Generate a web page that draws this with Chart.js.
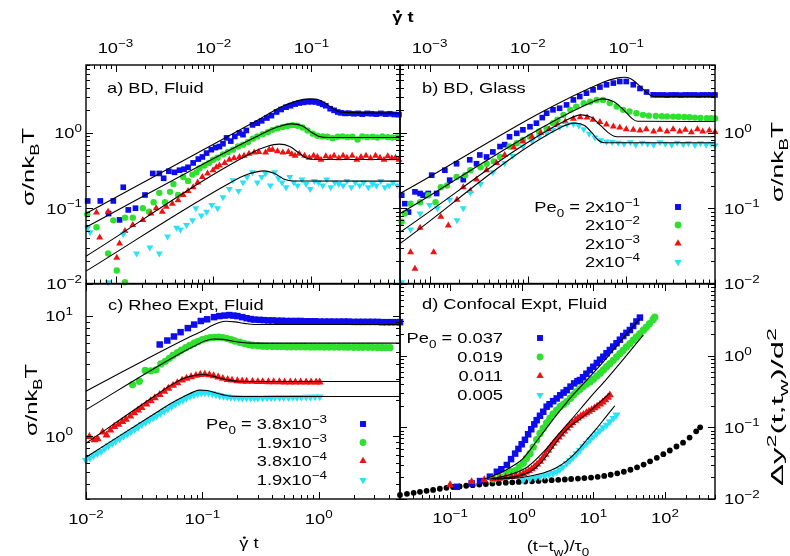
<!DOCTYPE html>
<html><head><meta charset="utf-8">
<script src="https://cdn.jsdelivr.net/npm/chart.js@4.4.1/dist/chart.umd.min.js"></script>
<style>
html,body{margin:0;padding:0;background:#fff;}
#wrap{position:relative;width:790px;height:556px;background:#fff;}
#wrap canvas{position:absolute;left:0;top:0;}
</style></head><body>
<div id="wrap">
<canvas id="pa" width="790" height="556"></canvas>
<canvas id="pb" width="790" height="556"></canvas>
<canvas id="pc" width="790" height="556"></canvas>
<canvas id="pd" width="790" height="556"></canvas>
</div>
<script>
// ---------- axis ranges / tick labels ----------
const abXRange = [5e-4, 0.8];
const abYRange = [0.01, 8];
const cXRange = [0.01, 5];
const cYRange = [0.3, 18.5];
const dXRange = [0.02, 500];
const dYRange = [0.01, 10];
const abTopTicks = [1e-3, 1e-2, 1e-1];
const abTopLabels = ['10^{−3}', '10^{−2}', '10^{−1}'];
const abYTicks = [1, 0.1, 0.01];
const abYLabels = ['10^{0}', '10^{−1}', '10^{−2}'];
const cXTicks = [0.01, 0.1, 1];
const cXLabels = ['10^{−2}', '10^{−1}', '10^{0}'];
const cYTicks = [10, 1];
const cYLabels = ['10^{1}', '10^{0}'];
const dXTicks = [0.1, 1, 10, 100];
const dXLabels = ['10^{−1}', '10^{0}', '10^{1}', '10^{2}'];
const dYTicks = [1, 0.1, 0.01];
const dYLabels = ['10^{0}', '10^{−1}', '10^{−2}'];
const bLegend = ['Pe_{0} = 2x10^{−1}', '2x10^{−2}', '2x10^{−3}', '2x10^{−4}'];
const cLegend = ['Pe_{0} = 3.8x10^{−3}', '1.9x10^{−3}', '3.8x10^{−4}', '1.9x10^{−4}'];
const dLegend = ['Pe_{0} = 0.037', '0.019', '0.011', '0.005'];

// ---------- panel a: BD, Fluid ----------
const aBlueX = [5.2e-4,7e-4,9.5e-4,8.5e-4,1.1e-3,1.2e-3,1.35e-3,1.6e-3,2e-3,2.4e-3,2.8e-3,3.1e-3,3.5e-3,4e-3,4.5e-3,5e-3,5.5e-3,6.2e-3,7e-3,7.7e-3,8.5e-3,9.5e-3,0.0105,0.0115,0.0125,0.0136,0.015,0.0165,0.0184,0.02,0.0216,0.025,0.028,0.031,0.035,0.039,0.044,0.049,0.055,0.061,0.068,0.075,0.083,0.092,0.1,0.11,0.12,0.13,0.14,0.155,0.17,0.185,0.2,0.22,0.24,0.27,0.3,0.33,0.37,0.41,0.46,0.51,0.57,0.63,0.7,0.78];
const aBlueY = [0.125,0.125,0.125,0.085,0.07,0.19,0.095,0.1,0.15,0.29,0.29,0.25,0.31,0.3,0.32,0.33,0.35,0.4,0.45,0.48,0.54,0.6,0.64,0.66,0.72,0.86,0.78,0.9,1.0,0.95,1.08,1.28,1.35,1.45,1.58,1.7,1.9,2.05,2.2,2.3,2.42,2.5,2.55,2.6,2.6,2.58,2.5,2.4,2.3,2.1,2.0,1.9,1.85,1.82,1.83,1.8,1.82,1.78,1.82,1.8,1.78,1.82,1.78,1.8,1.76,1.75];
const aGreenX = [5.15e-4,6.4e-4,8.4e-4,9.5e-4,1.03e-3,1.25e-3,1.25e-3,1.5e-3,1.9e-3,2.2e-3,2.45e-3,2.8e-3,3.2e-3,3.6e-3,3.9e-3,4.35e-3,4.9e-3,5.5e-3,6.1e-3,6.7e-3,7.2e-3,8.1e-3,9e-3,9.9e-3,0.011,0.0125,0.014,0.0158,0.0178,0.02,0.0225,0.0252,0.028,0.0318,0.036,0.04,0.045,0.051,0.057,0.064,0.072,0.081,0.091,0.103,0.115,0.13,0.146,0.164,0.185,0.207,0.233,0.262,0.295,0.33,0.37,0.42,0.47,0.53,0.6,0.67,0.75];
const aGreenY = [0.083,0.056,0.025,0.069,0.0149,0.0104,0.075,0.075,0.1,0.09,0.12,0.16,0.12,0.165,0.21,0.15,0.26,0.23,0.28,0.3,0.34,0.37,0.4,0.44,0.47,0.52,0.56,0.6,0.66,0.7,0.76,0.84,0.9,0.96,1.03,1.1,1.15,1.2,1.24,1.27,1.25,1.18,1.08,0.98,0.92,0.9,0.89,0.85,0.89,0.9,0.88,0.89,0.82,0.9,0.88,0.89,0.87,0.9,0.88,0.87,0.88];
const aRedX = [6.4e-4,6.9e-4,8.4e-4,1.03e-3,1.1e-3,1.25e-3,1.5e-3,1.9e-3,2.3e-3,2.6e-3,3e-3,3.3e-3,3.8e-3,4.35e-3,4.9e-3,5.5e-3,6.2e-3,6.9e-3,7.7e-3,8.7e-3,9.9e-3,0.0107,0.0115,0.013,0.0145,0.0162,0.0184,0.0205,0.023,0.026,0.029,0.034,0.037,0.04,0.045,0.051,0.058,0.063,0.068,0.075,0.085,0.095,0.105,0.115,0.125,0.14,0.155,0.17,0.19,0.21,0.23,0.26,0.29,0.32,0.36,0.4,0.45,0.5,0.55,0.6,0.66,0.72,0.78];
const aRedY = [0.088,0.041,0.09,0.022,0.034,0.05,0.06,0.07,0.085,0.1,0.09,0.105,0.115,0.128,0.15,0.17,0.19,0.22,0.26,0.29,0.32,0.35,0.37,0.4,0.44,0.46,0.48,0.5,0.53,0.55,0.56,0.55,0.6,0.6,0.57,0.55,0.56,0.52,0.5,0.53,0.5,0.47,0.5,0.48,0.44,0.49,0.47,0.5,0.46,0.5,0.47,0.5,0.44,0.48,0.5,0.46,0.5,0.47,0.44,0.49,0.46,0.47,0.44];
const aCyanX = [5.2e-4,5.5e-4,8.4e-4,1.2e-3,1.64e-3,2.24e-3,2.8e-3,3.4e-3,4.2e-3,4.6e-3,5.3e-3,6.1e-3,6.6e-3,7.5e-3,8.5e-3,9.6e-3,0.011,0.0125,0.0145,0.0158,0.018,0.02,0.022,0.025,0.028,0.031,0.034,0.038,0.042,0.046,0.05,0.055,0.06,0.066,0.072,0.08,0.088,0.097,0.107,0.118,0.13,0.143,0.157,0.173,0.19,0.21,0.23,0.255,0.28,0.31,0.34,0.38,0.42,0.46,0.51,0.56,0.62,0.68,0.75];
const aCyanY = [0.055,0.048,0.0104,0.045,0.025,0.03,0.025,0.042,0.055,0.052,0.06,0.069,0.1,0.08,0.09,0.11,0.1,0.14,0.18,0.236,0.17,0.22,0.26,0.3,0.22,0.26,0.29,0.2,0.3,0.25,0.22,0.19,0.26,0.22,0.2,0.24,0.21,0.18,0.23,0.22,0.2,0.24,0.19,0.22,0.21,0.2,0.23,0.19,0.22,0.2,0.22,0.19,0.21,0.2,0.23,0.19,0.2,0.22,0.2];
const aFit1X = [5e-4,0.03,0.05,0.07,0.095,0.12,0.15,0.18,0.22,0.8];
const aFit1Y = [0.085,1.55,2.24,2.65,2.84,2.75,2.3,1.98,1.88,1.83];
const aFit2X = [5e-4,0.03,0.045,0.062,0.08,0.1,0.12,0.15,0.8];
const aFit2Y = [0.056,0.95,1.2,1.32,1.25,1.02,0.9,0.87,0.87];
const aFit3X = [5e-4,0.025,0.035,0.047,0.06,0.075,0.09,0.11,0.8];
const aFit3Y = [0.023,0.55,0.66,0.71,0.66,0.54,0.46,0.445,0.445];
const aFit4X = [5e-4,0.015,0.022,0.033,0.042,0.052,0.065,0.8];
const aFit4Y = [0.0146,0.22,0.28,0.314,0.29,0.245,0.23,0.229];

// ---------- panel b: BD, Glass ----------
const bBlueX = [5.2e-4,5.6e-4,6.1e-4,7.1e-4,8e-4,8.6e-4,9.7e-4,1.05e-3,1.18e-3,1.43e-3,1.6e-3,1.88e-3,2.2e-3,2.56e-3,3e-3,3.24e-3,3.8e-3,4.4e-3,5.2e-3,5.8e-3,6.5e-3,7.7e-3,8.9e-3,0.0105,0.0122,0.014,0.0155,0.018,0.021,0.0247,0.029,0.0337,0.0394,0.046,0.054,0.063,0.074,0.086,0.1,0.118,0.138,0.161,0.188,0.21,0.235,0.26,0.29,0.32,0.36,0.4,0.44,0.49,0.54,0.6,0.66,0.73,0.8];
const bBlueY = [0.149,0.115,0.089,0.165,0.157,0.149,0.157,0.275,0.157,0.32,0.236,0.39,0.24,0.44,0.39,0.51,0.48,0.56,0.66,0.7,0.89,0.99,1.1,1.21,1.35,1.6,1.83,2.03,2.13,2.36,2.75,3.05,3.38,3.74,4.07,4.37,4.6,4.83,4.83,4.37,3.9,3.5,3.21,3.2,3.2,3.18,3.2,3.2,3.18,3.2,3.2,3.2,3.18,3.2,3.2,3.2,3.2];
const bGreenX = [5.2e-4,5.6e-4,6.4e-4,8e-4,9.7e-4,1.15e-3,1.3e-3,1.5e-3,1.88e-3,2.3e-3,2.6e-3,3.3e-3,3.8e-3,4.5e-3,5.2e-3,6.5e-3,7.7e-3,8.9e-3,0.0105,0.013,0.0155,0.018,0.02,0.023,0.027,0.031,0.037,0.043,0.05,0.058,0.068,0.08,0.093,0.108,0.127,0.148,0.17,0.2,0.23,0.26,0.3,0.34,0.39,0.44,0.5,0.57,0.66,0.73,0.8];
const bGreenY = [0.066,0.085,0.115,0.12,0.149,0.12,0.19,0.2,0.26,0.275,0.32,0.35,0.39,0.42,0.48,0.66,0.73,0.81,0.89,1.05,1.15,1.35,1.5,1.74,2.03,2.24,2.48,2.6,2.75,2.75,2.5,2.24,2.03,1.93,1.83,1.74,1.7,1.68,1.67,1.66,1.65,1.64,1.63,1.62,1.6,1.58,1.57,1.57,1.56];
const bRedX = [6.4e-4,7.1e-4,8e-4,1.1e-3,1.3e-3,1.55e-3,1.9e-3,2.2e-3,2.6e-3,3e-3,3.8e-3,4.8e-3,5.8e-3,7.2e-3,8.9e-3,0.011,0.0135,0.0165,0.02,0.024,0.029,0.034,0.04,0.046,0.054,0.063,0.074,0.086,0.1,0.118,0.138,0.16,0.19,0.22,0.26,0.3,0.35,0.4,0.46,0.53,0.6,0.7,0.8];
const bRedY = [0.026,0.0157,0.055,0.026,0.077,0.059,0.13,0.19,0.17,0.24,0.32,0.4,0.51,0.64,0.77,0.89,1.0,1.12,1.28,1.42,1.55,1.62,1.6,1.5,1.4,1.3,1.22,1.18,1.12,1.1,1.08,1.12,1.05,1.1,1.05,1.12,1.05,1.1,1.02,1.12,1.05,1.08,1.03];
const bCyanX = [5.2e-4,6.4e-4,8e-4,1e-3,1.2e-3,1.6e-3,1.9e-3,2.2e-3,2.6e-3,3.3e-3,4.4e-3,5.8e-3,7e-3,8.9e-3,0.011,0.013,0.0155,0.018,0.021,0.025,0.029,0.033,0.037,0.042,0.048,0.055,0.063,0.072,0.083,0.095,0.11,0.125,0.145,0.165,0.19,0.22,0.25,0.29,0.33,0.38,0.43,0.5,0.57,0.65,0.73,0.8];
const bCyanY = [0.0104,0.052,0.085,0.11,0.1,0.13,0.069,0.1,0.16,0.21,0.3,0.4,0.5,0.66,0.78,0.9,1.0,1.1,1.2,1.3,1.32,1.25,1.12,0.98,0.87,0.8,0.77,0.76,0.74,0.72,0.75,0.7,0.74,0.72,0.7,0.75,0.72,0.7,0.74,0.71,0.73,0.69,0.73,0.7,0.72,0.68];
const bFit1X = [5e-4,0.06,0.08,0.095,0.11,0.13,0.16,0.19,0.8];
const bFit1Y = [0.157,4.8,5.35,5.5,5.3,4.5,3.5,3.05,3.05];
const bFit2X = [5e-4,0.04,0.058,0.075,0.095,0.115,0.13,0.8];
const bFit2Y = [0.085,2.4,2.84,2.6,2.0,1.55,1.43,1.42];
const bFit3X = [5e-4,0.025,0.035,0.045,0.055,0.07,0.08,0.8];
const bFit3Y = [0.048,1.5,1.74,1.6,1.25,0.95,0.89,0.89];
const bFit4X = [5e-4,0.022,0.03,0.038,0.045,0.052,0.06,0.8];
const bFit4Y = [0.034,1.2,1.35,1.25,1.0,0.8,0.74,0.74];

// ---------- panel c: Rheo Expt, Fluid ----------
const cBlueX = [0.043,0.05,0.057,0.065,0.075,0.085,0.097,0.11,0.126,0.14,0.155,0.17,0.185,0.2,0.22,0.24,0.26,0.28,0.31,0.34,0.37,0.4,0.44,0.48,0.53,0.58,0.64,0.7,0.77,0.85,0.93,1.02,1.12,1.23,1.35,1.5,1.65,1.8,2.0,2.2,2.4,2.65,2.9,3.2,3.5,3.85,4.2,4.6,5.0];
const cBlueY = [5.8,6.26,6.76,7.35,7.94,8.5,9.1,9.4,9.8,10.0,10.1,10.2,10.1,10.0,9.8,9.6,9.45,9.35,9.3,9.25,9.2,9.2,9.15,9.15,9.1,9.1,9.1,9.1,9.05,9.05,9.05,9.0,9.0,9.0,9.0,9.0,9.0,9.0,8.95,8.95,8.95,8.95,8.95,8.95,8.9,8.9,8.9,8.9,8.9];
const cGreenX = [0.0251,0.0287,0.0323,0.0361,0.04,0.044,0.048,0.052,0.056,0.061,0.066,0.072,0.078,0.085,0.092,0.1,0.108,0.117,0.127,0.138,0.15,0.163,0.177,0.19,0.21,0.23,0.25,0.27,0.3,0.33,0.36,0.4,0.44,0.48,0.53,0.58,0.64,0.7,0.77,0.85,0.93,1.02,1.12,1.23,1.35,1.5,1.65,1.8,2.0,2.2,2.4,2.65,2.9,3.2,3.5,3.8,4.1];
const cGreenY = [2.69,2.87,3.52,3.5,3.57,4.0,4.2,4.45,4.7,4.95,5.2,5.45,5.7,5.95,6.15,6.35,6.5,6.6,6.65,6.68,6.62,6.5,6.35,6.2,6.05,5.9,5.8,5.72,5.66,5.62,5.6,5.58,5.57,5.57,5.56,5.56,5.55,5.55,5.55,5.54,5.54,5.54,5.53,5.53,5.52,5.52,5.52,5.51,5.5,5.5,5.5,5.5,5.49,5.48,5.48,5.47,5.47];
const cRedX = [0.0107,0.0118,0.0126,0.0139,0.015,0.0162,0.0175,0.019,0.0205,0.022,0.024,0.026,0.028,0.03,0.033,0.036,0.039,0.043,0.047,0.051,0.056,0.061,0.067,0.073,0.08,0.088,0.096,0.105,0.115,0.125,0.137,0.15,0.165,0.18,0.2,0.22,0.24,0.27,0.3,0.33,0.37,0.41,0.46,0.51,0.57,0.63,0.7,0.78,0.86,0.95,1.02];
const cRedY = [0.99,0.93,0.95,1.08,1.02,1.12,1.2,1.25,1.32,1.38,1.47,1.56,1.65,1.73,1.85,1.97,2.08,2.22,2.36,2.5,2.64,2.78,2.92,3.03,3.12,3.2,3.25,3.27,3.24,3.18,3.1,3.02,2.96,2.92,2.89,2.87,2.86,2.85,2.84,2.84,2.83,2.83,2.83,2.82,2.82,2.82,2.82,2.82,2.82,2.82,2.82];
const cCyanX = [0.01,0.0108,0.0116,0.0125,0.0135,0.0145,0.0156,0.0168,0.018,0.0195,0.021,0.0226,0.0243,0.0262,0.028,0.0302,0.0325,0.035,0.0377,0.0405,0.0436,0.047,0.0505,0.0544,0.0585,0.063,0.068,0.073,0.0786,0.0846,0.091,0.098,0.105,0.113,0.122,0.131,0.141,0.152,0.164,0.176,0.19,0.205,0.22,0.24,0.26,0.28,0.3,0.33,0.36,0.39,0.42,0.46,0.5,0.55,0.6,0.65,0.71,0.78,0.85,0.93,1.02];
const cCyanY = [0.63,0.66,0.69,0.72,0.75,0.79,0.83,0.87,0.91,0.95,1.0,1.04,1.09,1.14,1.19,1.25,1.3,1.36,1.42,1.48,1.55,1.62,1.69,1.77,1.85,1.93,2.0,2.08,2.15,2.21,2.26,2.29,2.3,2.29,2.26,2.22,2.18,2.15,2.13,2.11,2.1,2.09,2.08,2.08,2.08,2.08,2.08,2.08,2.09,2.09,2.1,2.1,2.1,2.1,2.11,2.11,2.11,2.12,2.12,2.13,2.13];
const cFit1X = [0.01,0.08,0.1,0.12,0.14,0.16,0.19,0.23,0.28,5];
const cFit1Y = [2.37,6.8,7.5,8.3,8.85,9.05,8.95,8.7,8.5,8.5];
const cFit2X = [0.01,0.06,0.088,0.105,0.125,0.15,0.18,0.22,0.26,5];
const cFit2Y = [1.66,4.7,5.7,6.2,6.45,6.4,6.2,6.03,5.96,5.96];
const cFit3X = [0.01,0.04,0.055,0.07,0.085,0.1,0.12,0.15,0.18,0.22,5];
const cFit3Y = [0.873,2.2,2.7,3.05,3.2,3.26,3.18,3.0,2.9,2.85,2.85];
const cFit4X = [0.01,0.04,0.055,0.07,0.085,0.095,0.11,0.13,0.16,0.2,5];
const cFit4Y = [0.667,1.57,1.9,2.15,2.35,2.42,2.4,2.3,2.18,2.14,2.14];

// ---------- panel d: Confocal Expt, Fluid ----------
const dBlackX = [0.02,0.025,0.031,0.038,0.047,0.058,0.072,0.089,0.11,0.136,0.168,0.207,0.256,0.316,0.39,0.48,0.6,0.74,0.91,1.12,1.39,1.72,2.12,2.62,3.24,4.0,4.9,6.1,7.5,9.3,11.5,14.2,17.5,21.6,26.7,33,40.8,50.4,62,77,95,117,145,179,221,273,310];
const dBlackY = [0.0114,0.0118,0.0122,0.0126,0.013,0.0134,0.0139,0.0143,0.0147,0.015,0.0153,0.0156,0.0159,0.0162,0.0164,0.0167,0.0169,0.0171,0.0173,0.0175,0.0177,0.0179,0.0181,0.0183,0.0185,0.0187,0.019,0.0193,0.0196,0.0199,0.0204,0.021,0.0218,0.0228,0.024,0.0256,0.0277,0.0302,0.0335,0.0375,0.0422,0.0475,0.054,0.061,0.072,0.088,0.1];
const dBlueX = [0.124,0.2,0.262,0.36,0.45,0.52,0.62,0.71,0.81,0.9,1.0,1.11,1.23,1.36,1.5,1.62,1.8,2.0,2.23,2.45,2.75,3.08,3.45,3.85,4.25,4.8,5.4,6.0,6.5,7.2,8.0,8.97,10,11.2,12.4,13.8,15.3,17,19,21.1,23.5,26.2,29,32.4,36,40,44.7];
const dBlueY = [0.0148,0.0165,0.0178,0.0205,0.024,0.026,0.0298,0.036,0.043,0.05,0.058,0.067,0.08,0.094,0.11,0.126,0.145,0.165,0.194,0.21,0.232,0.253,0.28,0.305,0.331,0.37,0.41,0.44,0.457,0.5,0.56,0.63,0.7,0.79,0.88,0.966,1.08,1.2,1.34,1.49,1.67,1.88,2.08,2.28,2.6,3.0,3.4];
const dGreenX = [0.4,0.5,0.62,0.72,0.81,0.92,1.05,1.17,1.31,1.45,1.62,1.8,2.0,2.23,2.48,2.75,3.08,3.45,3.85,4.25,4.8,5.3,5.85,6.5,7.2,8.0,8.97,10,11.2,12.5,13.8,15.3,17,19,21.1,23.5,26,29,32.4,36,40,44.7,50,55,61,68.5,72];
const dGreenY = [0.019,0.0205,0.0226,0.024,0.0249,0.028,0.0315,0.037,0.043,0.053,0.067,0.082,0.097,0.115,0.134,0.154,0.174,0.195,0.21,0.228,0.255,0.285,0.314,0.34,0.37,0.4,0.43,0.47,0.52,0.57,0.63,0.7,0.77,0.86,0.96,1.07,1.18,1.32,1.47,1.64,1.82,2.03,2.27,2.5,2.8,3.2,3.45];
const dRedX = [0.1,0.2,0.3,0.4,0.5,0.6,0.72,0.83,0.95,1.05,1.15,1.26,1.38,1.5,1.64,1.8,1.96,2.14,2.34,2.55,2.78,3.03,3.3,3.6,3.93,4.3,4.7,5.1,5.6,6.1,6.7,7.3,8.0,8.7,9.5,10.4,11.3,12.4,13.5,14.7,16,17];
const dRedY = [0.0157,0.0174,0.0185,0.019,0.0194,0.02,0.0205,0.021,0.0216,0.0225,0.0236,0.0248,0.0262,0.028,0.0305,0.0335,0.037,0.042,0.048,0.054,0.06,0.066,0.073,0.08,0.088,0.097,0.106,0.115,0.125,0.134,0.143,0.151,0.159,0.167,0.176,0.186,0.197,0.21,0.225,0.242,0.262,0.282];
const dCyanX = [1.05,1.3,1.55,1.8,2.1,2.4,2.75,3.08,3.4,3.75,4.25,4.7,5.2,5.85,6.5,7.2,8.07,9,10,11.1,12.3,13.7,15.3,17,19,21.1];
const dCyanY = [0.0185,0.0192,0.0198,0.0205,0.0212,0.022,0.0228,0.024,0.0258,0.028,0.0315,0.0345,0.038,0.043,0.048,0.054,0.06,0.067,0.074,0.082,0.09,0.099,0.108,0.12,0.134,0.149];
const dFit1X = [0.3,0.5,0.8,1.05,1.5,2,3.08,5,8.97,15,26,44];
const dFit1Y = [0.019,0.023,0.03,0.037,0.058,0.085,0.149,0.27,0.51,0.9,1.75,3.2];
const dFit2X = [0.36,0.7,1.2,2,3.08,5,9,15,26,50];
const dFit2Y = [0.019,0.022,0.028,0.045,0.075,0.13,0.26,0.46,0.88,1.95];
const dFit3X = [0.4,0.9,1.3,1.8,2.5,3.4,4.7,6.5,9,12.4,17];
const dFit3Y = [0.019,0.021,0.024,0.031,0.047,0.072,0.102,0.13,0.17,0.225,0.3];
const dFit4X = [0.4,1,2,3,4.25,6,8,11,15,20];
const dFit4Y = [0.019,0.02,0.023,0.027,0.034,0.047,0.066,0.095,0.14,0.2];

// ---------- styles ----------
const BLUE = '#0c0ced', GREEN = '#2fe02f', RED = '#ef1212', CYAN = '#2ae2f6', BLACK = '#000';
const FONT = "'Liberation Sans', Arial, Helvetica, sans-serif";
const W = 790, H = 556;

// '^{..}' superscript, '_{..}' subscript, '~{..}' letter with a dot above
function parse(s) {
  const out = []; let i = 0, buf = '';
  while (i < s.length) {
    const c = s[i];
    if ((c === '^' || c === '_' || c === '~') && s[i + 1] === '{') {
      if (buf) { out.push({ t: buf }); buf = ''; }
      const j = s.indexOf('}', i);
      out.push({ t: s.slice(i + 2, j), sup: c === '^', sub: c === '_', dot: c === '~' });
      i = j + 1;
    } else { buf += c; i++; }
  }
  if (buf) out.push({ t: buf });
  return out;
}
function rich(ctx, str, x, y, o) {
  o = o || {};
  const parts = parse(str);
  const S = o.size || 15, s = Math.round(S * 0.73);
  const wt = o.bold ? 'bold ' : '';
  const sx = o.sx || 1.22;
  ctx.save();
  ctx.fillStyle = '#000';
  ctx.textBaseline = 'alphabetic';
  ctx.translate(x, y);
  ctx.scale(sx, 1);
  if (o.rot) ctx.rotate(-Math.PI / 2);
  const ws = parts.map(p => { ctx.font = wt + ((p.sub || p.sup) ? s : S) + 'px ' + FONT; return ctx.measureText(p.t).width; });
  const tw = ws.reduce((a, b) => a + b, 0);
  if (o.len) ctx.scale(o.len / tw / (o.rot ? 1 : sx), 1);
  let cx = o.align === 'center' ? -tw / 2 : o.align === 'right' ? -tw : 0;
  const base = S * 0.36;
  parts.forEach((p, i) => {
    ctx.font = wt + ((p.sub || p.sup) ? s : S) + 'px ' + FONT;
    const dy = p.sup ? -S * 0.42 : p.sub ? S * 0.3 : 0;
    ctx.fillText(p.t, cx, base + dy);
    if (p.dot) {
      ctx.beginPath();
      ctx.arc(cx + ws[i] * 0.55, base - S * 0.72, S * (o.bold ? 0.1 : 0.08), 0, Math.PI * 2);
      ctx.fill();
    }
    cx += ws[i];
  });
  ctx.restore();
}
function pts(xs, ys) { return xs.map((x, i) => ({ x: x, y: ys[i] })); }
function series(xs, ys, color, style, r, rot) {
  return { data: pts(xs, ys), showLine: false, pointStyle: style, pointRadius: r, pointRotation: rot || 0,
    backgroundColor: color, borderColor: color, pointBorderWidth: 0, borderWidth: 0, clip: false };
}
function fit(xs, ys) {
  return { data: pts(xs, ys), showLine: true, pointRadius: 0, borderColor: '#000', borderWidth: 1.1,
    cubicInterpolationMode: 'monotone', fill: false, clip: false };
}
const MARK = [
  { color: BLUE, style: 'rect', r: 4.2, rot: 0 },
  { color: GREEN, style: 'circle', r: 3.4, rot: 0 },
  { color: RED, style: 'triangle', r: 4.2, rot: 0 },
  { color: CYAN, style: 'triangle', r: 4.2, rot: 180 }
];
function legend(ctx, labels, xr, xm, ys) {
  labels.forEach((lab, i) => {
    rich(ctx, lab, xr, ys[i], { align: 'right' });
    const m = MARK[i];
    ctx.save();
    ctx.fillStyle = m.color;
    Chart.helpers.drawPoint(ctx, { pointStyle: m.style, radius: m.r, rotation: m.rot, borderWidth: 0 }, xm, ys[i]);
    ctx.restore();
  });
}
function drawFrame(chart) {
  const ctx = chart.ctx, xs = chart.scales.x, ys = chart.scales.y, a = chart.chartArea;
  ctx.save();
  ctx.strokeStyle = '#000';
  ctx.lineWidth = 1;
  ctx.beginPath();
  for (let d = Math.floor(Math.log10(xs.min)); d <= Math.ceil(Math.log10(xs.max)); d++) {
    for (let k = 1; k < 10; k++) {
      const v = k * Math.pow(10, d);
      if (v < xs.min * 0.999 || v > xs.max * 1.001) continue;
      const px = Math.round(xs.getPixelForValue(v)) + 0.5, L = k === 1 ? 7 : 4;
      ctx.moveTo(px, a.bottom); ctx.lineTo(px, a.bottom - L);
      ctx.moveTo(px, a.top); ctx.lineTo(px, a.top + L);
    }
  }
  for (let d = Math.floor(Math.log10(ys.min)); d <= Math.ceil(Math.log10(ys.max)); d++) {
    for (let k = 1; k < 10; k++) {
      const v = k * Math.pow(10, d);
      if (v < ys.min * 0.999 || v > ys.max * 1.001) continue;
      const py = Math.round(ys.getPixelForValue(v)) + 0.5, L = k === 1 ? 7 : 4;
      ctx.moveTo(a.left, py); ctx.lineTo(a.left + L, py);
      ctx.moveTo(a.right, py); ctx.lineTo(a.right - L, py);
    }
  }
  ctx.stroke();
  ctx.lineWidth = 1.4;
  ctx.strokeRect(a.left, a.top, a.right - a.left, a.bottom - a.top);
  ctx.restore();
}
function panel(id, area, xr, yr, datasets, text) {
  return new Chart(document.getElementById(id), {
    type: 'scatter',
    data: { datasets: datasets },
    options: {
      responsive: false, animation: false, events: [],
      layout: { autoPadding: false, padding: { left: area[0], top: area[1], right: W - area[2], bottom: H - area[3] } },
      scales: {
        x: { type: 'logarithmic', min: xr[0], max: xr[1], display: false },
        y: { type: 'logarithmic', min: yr[0], max: yr[1], display: false }
      },
      plugins: { legend: { display: false }, tooltip: { enabled: false } }
    },
    plugins: [{ id: 'deco' + id, afterDatasetsDraw: drawFrame, afterDraw: function (chart) { text(chart, chart.ctx, chart.scales.x, chart.scales.y); } }]
  });
}
function sets(f1, f2, f3, f4, cy, rd, gr, bl, big) {
  const k = big ? 1.15 : 1;
  return [f1, f2, f3, f4,
    series(cy[0], cy[1], CYAN, 'triangle', 4.0 * k, 180),
    series(rd[0], rd[1], RED, 'triangle', 4.0 * k),
    series(gr[0], gr[1], GREEN, 'circle', 3.2 * k),
    series(bl[0], bl[1], BLUE, 'rect', 4.0 * k)];
}

// panel a
panel('pa', [86, 65, 400, 283.5], abXRange, abYRange,
  sets(fit(aFit1X, aFit1Y), fit(aFit2X, aFit2Y), fit(aFit3X, aFit3Y), fit(aFit4X, aFit4Y),
    [aCyanX, aCyanY], [aRedX, aRedY], [aGreenX, aGreenY], [aBlueX, aBlueY], false),
  function (c, ctx, xs, ys) {
    abTopTicks.forEach((v, i) => rich(ctx, abTopLabels[i], xs.getPixelForValue(v), 48, { align: 'center' }));
    abYTicks.forEach((v, i) => rich(ctx, abYLabels[i], 82, ys.getPixelForValue(v), { align: 'right' }));
    rich(ctx, 'a) BD, Fluid', 107, 88, {});
    rich(ctx, 'σ/nk_{B}T', 28, 167, { align: 'center', rot: true, size: 17, sx: 1, len: 78 });
  });

// panel b
panel('pb', [400, 65, 715, 283.5], abXRange, abYRange,
  sets(fit(bFit1X, bFit1Y), fit(bFit2X, bFit2Y), fit(bFit3X, bFit3Y), fit(bFit4X, bFit4Y),
    [bCyanX, bCyanY], [bRedX, bRedY], [bGreenX, bGreenY], [bBlueX, bBlueY], false),
  function (c, ctx, xs, ys) {
    abTopTicks.forEach((v, i) => rich(ctx, abTopLabels[i], xs.getPixelForValue(v), 48, { align: 'center' }));
    abYTicks.forEach((v, i) => rich(ctx, abYLabels[i], 724, ys.getPixelForValue(v), { align: 'left' }));
    rich(ctx, 'b) BD, Glass', 422, 88, {});
    rich(ctx, 'σ/nk_{B}T', 777, 162, { align: 'center', rot: true, size: 17, sx: 1, len: 80 });
    rich(ctx, '~{γ} t', 403, 17, { align: 'center', bold: true });
    legend(ctx, bLegend, 640, 678, [207, 225, 243.5, 262]);
  });

// panel c
panel('pc', [86, 284, 400, 499], cXRange, cYRange,
  sets(fit(cFit1X, cFit1Y), fit(cFit2X, cFit2Y), fit(cFit3X, cFit3Y), fit(cFit4X, cFit4Y),
    [cCyanX, cCyanY], [cRedX, cRedY], [cGreenX, cGreenY], [cBlueX, cBlueY], true),
  function (c, ctx, xs, ys) {
    cXTicks.forEach((v, i) => rich(ctx, cXLabels[i], xs.getPixelForValue(v), 519, { align: 'center' }));
    cYTicks.forEach((v, i) => rich(ctx, cYLabels[i], 73, ys.getPixelForValue(v), { align: 'right' }));
    rich(ctx, 'c) Rheo Expt, Fluid', 108, 305, {});
    rich(ctx, 'σ/nk_{B}T', 31, 400, { align: 'center', rot: true, size: 17, sx: 1, len: 72 });
    rich(ctx, '~{γ} t', 249, 543, { align: 'center' });
    legend(ctx, cLegend, 327, 363, [424, 442.5, 461, 480]);
  });

// panel d
const dSets = sets(fit(dFit1X, dFit1Y), fit(dFit2X, dFit2Y), fit(dFit3X, dFit3Y), fit(dFit4X, dFit4Y),
  [dCyanX, dCyanY], [dRedX, dRedY], [dGreenX, dGreenY], [dBlueX, dBlueY], true);
dSets.push(series(dBlackX, dBlackY, BLACK, 'circle', 2.9));
panel('pd', [400, 284, 715, 499], dXRange, dYRange, dSets,
  function (c, ctx, xs, ys) {
    dXTicks.forEach((v, i) => rich(ctx, dXLabels[i], xs.getPixelForValue(v), 518, { align: 'center' }));
    dYTicks.forEach((v, i) => rich(ctx, dYLabels[i], 724, ys.getPixelForValue(v), { align: 'left' }));
    rich(ctx, 'd) Confocal Expt, Fluid', 422, 304, {});
    rich(ctx, 'Δy^{2}(t,t_{w})/d^{2}', 777, 407, { align: 'center', rot: true, size: 17, sx: 1, len: 158 });
    rich(ctx, '(t−t_{w})/τ_{0}', 558, 546, { align: 'center' });
    legend(ctx, dLegend, 503, 540, [338, 357, 376, 395]);
  });
</script>
</body></html>
